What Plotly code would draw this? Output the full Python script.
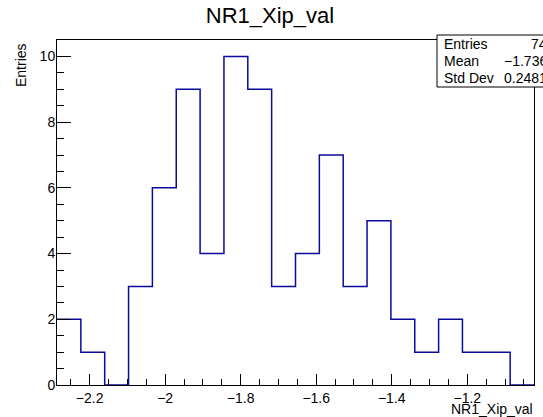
import plotly.graph_objects as go

# ---- data ----
counts = [2, 1, 0, 3, 6, 9, 4, 10, 9, 3, 4, 7, 3, 5, 2, 1, 2, 1, 1, 0]
x_low = -2.2863
x_high = -1.0233
stats_labels = ["Entries", "Mean", "Std Dev"]
stats_values = ["74", "\u22121.736", "0.2481"]
title_text = "NR1_Xip_val"
x_title = "NR1_Xip_val"
y_title = "Entries"

nb = len(counts)
bw = (x_high - x_low) / nb
edges = [x_low + i * bw for i in range(nb + 1)]
ys = counts + [counts[-1]]

W, H = 543, 417
L, R, T, B = 57, 534, 40, 385

def px(x):
    return (x - L) / (R - L)

def py(y):
    return (B - y) / (B - T)

FONT = "Liberation Sans, Arial, Helvetica, sans-serif"

fig = go.Figure()
fig.add_trace(go.Scatter(
    x=edges, y=ys, mode="lines", line=dict(color="#0a0a9c", width=1.5, shape="hv"),
    hoverinfo="skip", showlegend=False, cliponaxis=True))

fig.update_layout(
    width=W, height=H,
    margin=dict(l=L, r=W - R, t=T, b=H - B, pad=0),
    paper_bgcolor="white", plot_bgcolor="white",
    font=dict(family=FONT, size=14, color="black"),
    title=dict(text=title_text, x=270 / W, xanchor="center", y=1 - 15.5 / H, yanchor="middle",
               font=dict(size=22, family=FONT)),
    showlegend=False,
)
fig.update_xaxes(range=[x_low, x_high], dtick=0.2, tick0=0, ticks="inside", ticklen=11,
                 tickcolor="black", tickwidth=1, showgrid=False, zeroline=False,
                 showline=True, linecolor="black", linewidth=1, mirror=True,
                 minor=dict(ticks="inside", ticklen=6, dtick=0.05, tick0=0, tickcolor="black", showgrid=False),
                 tickfont=dict(size=14), fixedrange=True)
fig.update_yaxes(range=[0, 10.5], dtick=2, ticks="inside", ticklen=14,
                 tickcolor="black", tickwidth=1, showgrid=False, zeroline=False,
                 showline=True, linecolor="black", linewidth=1, mirror=True,
                 minor=dict(ticks="inside", ticklen=7, dtick=0.5, tickcolor="black", showgrid=False),
                 tickfont=dict(size=14), ticklabelstandoff=-2, fixedrange=True)

# axis titles (ROOT style: right/top aligned)
fig.add_annotation(text=x_title, xref="paper", yref="paper", x=px(535), y=py(409),
                   xanchor="right", yanchor="middle", showarrow=False, font=dict(size=14))
fig.add_annotation(text=y_title, xref="paper", yref="paper", x=px(21), y=py(41),
                   xanchor="center", yanchor="top", textangle=-90, showarrow=False, font=dict(size=14))

# stats box
fig.add_shape(type="rect", xref="paper", yref="paper", x0=px(437), x1=px(560), y0=py(87), y1=py(35),
              fillcolor="white", line=dict(color="black", width=1), layer="above")
rows_y = [44, 61, 78]
for lab, val, yy in zip(stats_labels, stats_values, rows_y):
    fig.add_annotation(text=lab, xref="paper", yref="paper", x=px(442), y=py(yy),
                       xanchor="left", yanchor="middle", showarrow=False, font=dict(size=14))
    fig.add_annotation(text=val, xref="paper", yref="paper", x=px(549), y=py(yy),
                       xanchor="right", yanchor="middle", showarrow=False, font=dict(size=14))

fig.write_html("out.html")
